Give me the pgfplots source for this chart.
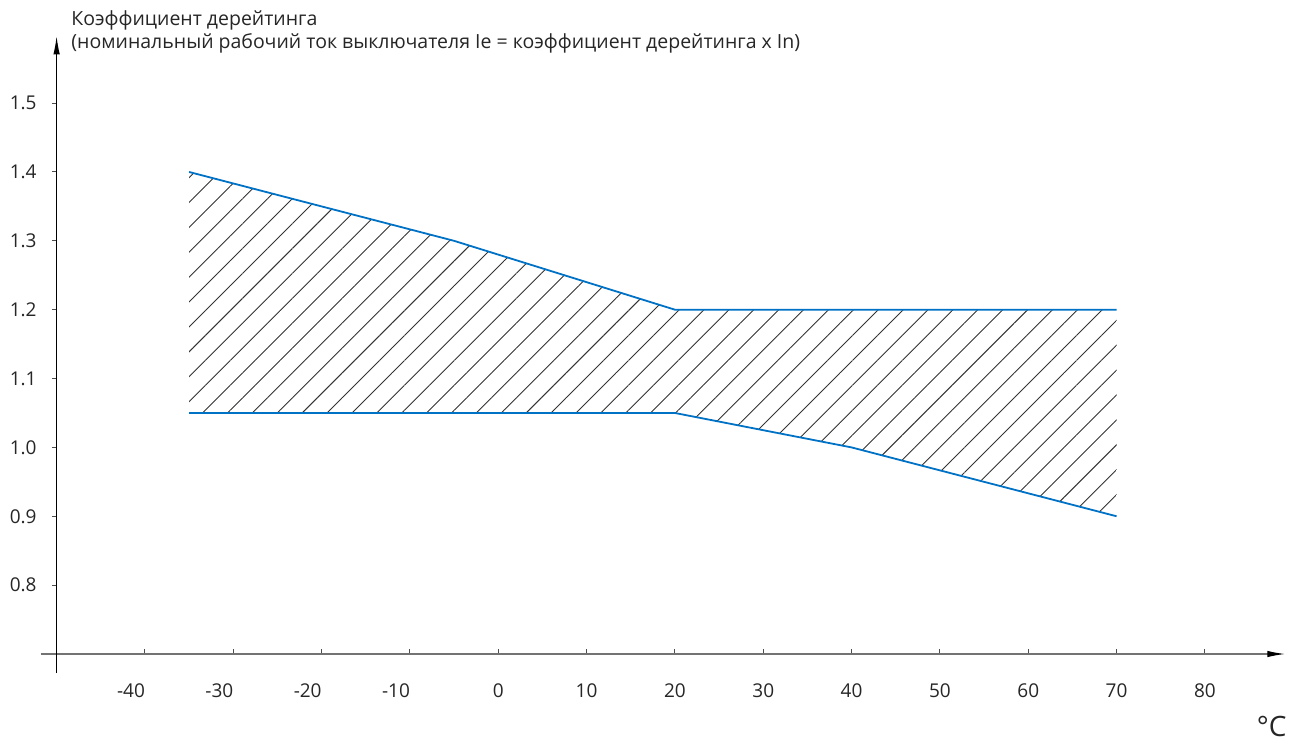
\documentclass[border=0pt]{standalone}
\usepackage{fontspec}
\setmainfont{Open Sans}
\usepackage{pgfplots}
\pgfplotsset{compat=1.18}
\usepackage{pgfplotstable}
\usepgfplotslibrary{fillbetween}
\usetikzlibrary{patterns.meta,arrows.meta}
\definecolor{curveblue}{RGB}{0,114,198}

\pgfplotstableread{
x y
-35 1.40
-5 1.30
20 1.20
70 1.20
}\uppertab
\pgfplotstableread{
x y
-35 1.05
20 1.05
40 1.00
70 0.90
}\lowertab

\begin{document}
\fontsize{9.5}{11}\selectfont
\begin{tikzpicture}
\begin{axis}[
  x=4.4167pt, y=344.3pt,
  xmin=-50, xmax=89.1, ymin=0.7, ymax=1.597,
  axis x line=bottom, axis y line=left,
  x axis line style={draw=black!55, line width=0.65pt, shorten <=-8pt, -{Latex[length=9pt,width=3.2pt,black]}},
  y axis line style={draw=black, line width=0.5pt, shorten <=-9.5pt, -{Latex[length=9pt,width=3.2pt]}},
  xtick align=inside, ytick align=outside,
  major tick length=2.3pt,
  tick style={black!70, line width=0.5pt},
  xtick={-40,-30,-20,-10,0,10,20,30,40,50,60,70,80},
  xticklabels={\makebox[0pt][r]{-40},\makebox[0pt][r]{-30},\makebox[0pt][r]{-20},\makebox[0pt][r]{-10},0,10,20,30,40,50,60,70,80},
  ytick={0.8,0.9,1.0,1.1,1.2,1.3,1.4,1.5},
  yticklabel style={/pgf/number format/fixed, /pgf/number format/fixed zerofill, /pgf/number format/precision=1},
  /pgf/number format/assume math mode=true,
  xticklabel style={anchor=north, inner sep=0pt, yshift=-14.5pt, text=black!85},
  yticklabel style={anchor=east, inner sep=0pt, xshift=-7.5pt, text=black!85},
  clip=false,
]
\addplot[draw=none, name path=U] table[x=x,y=y] {\uppertab};
\addplot[draw=none, name path=L] table[x=x,y=y] {\lowertab};
\addplot[pattern={Lines[angle=45,distance=8.8pt,line width=0.45pt]}, pattern color=black!80, draw=none] fill between[of=U and L];
\addplot[curveblue, line width=0.9pt] table[x=x,y=y] {\uppertab};
\addplot[curveblue, line width=0.9pt] table[x=x,y=y] {\lowertab};
\coordinate (o) at (axis cs:-50,0.7);
\end{axis}
\node[anchor=base west, inner sep=0pt, text=black!85, font=\fontsize{9.75}{11}\selectfont] at ([shift={(7.2pt,314pt)}]o) {Коэффициент дерейтинга};
\node[anchor=base west, inner sep=0pt, text=black!85, font=\fontsize{9.75}{11}\selectfont] at ([shift={(7.2pt,302.5pt)}]o) {(номинальный рабочий ток выключателя Ie = коэффициент дерейтинга x In)};
\node[anchor=base east, inner sep=0pt, text=black!85, font=\fontsize{14}{16}\selectfont] at ([shift={(615.2pt,-41pt)}]o) {°C};
\pgfresetboundingbox
\path[use as bounding box] ([shift={(-28.3pt,-43pt)}]o) rectangle ++(645pt,370pt);
\end{tikzpicture}
\end{document}
